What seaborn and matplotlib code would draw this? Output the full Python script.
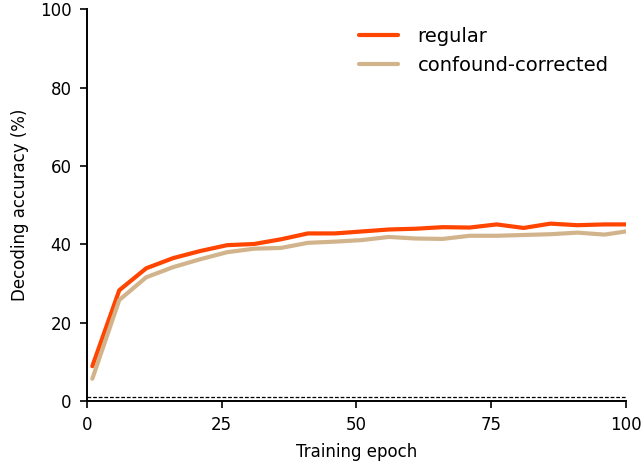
import numpy as np
import pandas as pd
import matplotlib
matplotlib.use('Agg')
import matplotlib.pyplot as plt
import seaborn as sns

# training epochs at which decoding was evaluated
epochs = [1, 6, 11, 16, 21, 26, 31, 36, 41, 46, 51, 56, 61, 66, 71, 76, 81, 86, 91, 96, 100]

regular = [8.9, 28.3, 33.9, 36.5, 38.3, 39.8, 40.1, 41.3, 42.8, 42.8, 43.3,
           43.8, 44.0, 44.4, 44.3, 45.1, 44.2, 45.3, 44.9, 45.1, 45.1]
corrected = [5.7, 25.8, 31.6, 34.2, 36.2, 38.0, 38.9, 39.1, 40.4, 40.7, 41.1,
             41.9, 41.5, 41.4, 42.2, 42.2, 42.4, 42.6, 43.0, 42.5, 43.3]

chance = 1.0


def make_plot():
    data = pd.concat([
        pd.DataFrame({'epoch': epochs, 'acc': regular, 'kind': 'regular'}),
        pd.DataFrame({'epoch': epochs, 'acc': corrected, 'kind': 'confound-corrected'}),
    ])

    sns.set_style('ticks', {'text.color': 'black', 'axes.labelcolor': 'black',
                            'xtick.color': 'black', 'ytick.color': 'black',
                            'axes.edgecolor': 'black'})
    fig, ax = plt.subplots(figsize=(6.44, 4.68), dpi=100)
    sns.lineplot(data=data, x='epoch', y='acc', hue='kind',
                 palette={'regular': '#ff4500', 'confound-corrected': '#d2b48c'},
                 linewidth=3, ax=ax)
    ax.axhline(chance, color='black', linestyle=(0, (3, 1.5)), linewidth=0.9)

    ax.set_xlim(0, 100)
    ax.set_ylim(0, 100)
    ax.set_xticks([0, 25, 50, 75, 100])
    ax.set_yticks([0, 20, 40, 60, 80, 100])
    ax.set_xlabel('Training epoch', fontsize=12, labelpad=6)
    ax.set_ylabel('Decoding accuracy (%)', fontsize=12, labelpad=8)
    ax.tick_params(labelsize=12, width=1.2, length=5, pad=6)
    for s in ['left', 'bottom']:
        ax.spines[s].set_linewidth(1.4)
    sns.despine(ax=ax)
    ax.legend(frameon=False, fontsize=14, loc='upper right', title=None,
              handlelength=2.0, handletextpad=1.0, borderaxespad=0.5)

    plt.subplots_adjust(left=0.135, right=0.972, top=0.98, bottom=0.143)
    plt.savefig('out.png')


if __name__ == '__main__':
    make_plot()
